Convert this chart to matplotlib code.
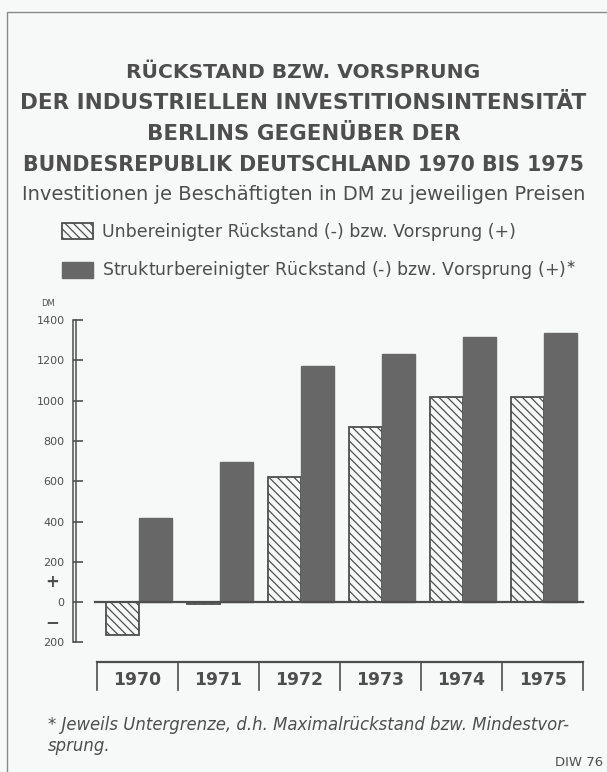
import numpy as np
import matplotlib.pyplot as plt
from matplotlib.patches import Rectangle

years = ['1970', '1971', '1972', '1973', '1974', '1975']
unadjusted = [-165, -10, 620, 870, 1020, 1020]
adjusted = [415, 695, 1170, 1230, 1315, 1335]
yticks = [-200, 0, 200, 400, 600, 800, 1000, 1200, 1400]
ytick_labels = ['200', '0', '200', '400', '600', '800', '1000', '1200', '1400']

title_lines = ['RÜCKSTAND BZW. VORSPRUNG',
               'DER INDUSTRIELLEN INVESTITIONSINTENSITÄT',
               'BERLINS GEGENÜBER DER',
               'BUNDESREPUBLIK DEUTSCHLAND 1970 BIS 1975']
subtitle = 'Investitionen je Beschäftigten in DM zu jeweiligen Preisen'
legend_labels = ['Unbereinigter Rückstand (-) bzw. Vorsprung (+)',
                 'Strukturbereinigter Rückstand (-) bzw. Vorsprung (+)$^{\\ast}$']
footnote = ['* Jeweils Untergrenze, d.h. Maximalrückstand bzw. Mindestvor-',
            'sprung.']
source = 'DIW 76'

BG = '#f7f8f8'
INK = '#4e4e4e'
DARK = '#676767'
W, H = 607, 772

plt.rcParams['font.family'] = ['DejaVu Sans']
plt.rcParams['hatch.linewidth'] = 0.9
plt.rcParams['hatch.color'] = INK

fig = plt.figure(figsize=(W / 100, H / 100), dpi=100, facecolor=BG)
renderer = fig.canvas.get_renderer()


def fit(t, width_px):
    # scale font so the text spans the width measured on the original
    bb = t.get_window_extent(renderer)
    t.set_fontsize(t.get_fontsize() * width_px / bb.width)
    return t


ax = fig.add_axes([40.3 / W, 1 - 702.75 / H, 567 / W, 402.75 / H])
ax.set_facecolor('none')
ax.set_xlim(-1.2, 5.8)
ax.set_ylim(-500, 1500)

x = np.arange(len(years))
w = 0.41
b1 = ax.bar(x - w / 2 + 0.02, unadjusted, w, facecolor=BG, edgecolor=INK,
            hatch='\\\\\\\\', linewidth=1.3, zorder=2)
b2 = ax.bar(x + w / 2 + 0.02, adjusted, w, color=DARK, edgecolor=DARK,
            zorder=2)

# zero line
ax.plot([-0.53, 5.5], [0, 0], color=INK, lw=1.6, zorder=3)

# y axis (double line)
for s in ['top', 'right', 'bottom']:
    ax.spines[s].set_visible(False)
ax.spines['left'].set_position(('data', -0.797))
ax.spines['left'].set_bounds(-200, 1400)
ax.spines['left'].set_color(INK)
ax.spines['left'].set_linewidth(1.1)
ax.plot([-0.762, -0.762], [-200, 1400], color=INK, lw=1.1)
ax.set_yticks(yticks, ytick_labels)
ax.tick_params(axis='y', direction='in', length=7.5, width=1.2, color=INK,
               labelcolor=INK, labelsize=8, pad=6)
ax.set_xticks([])
ax.text(-1.1, 1485, 'DM', ha='center', va='center', fontsize=6, color=INK)
ax.text(-1.056, 99, '+', ha='center', va='center', fontsize=12,
        fontweight='bold', color=INK)
ax.text(-1.056, -99, '−', ha='center', va='center', fontsize=12,
        fontweight='bold', color=INK)

# year boxes
ax.plot([-0.5, 5.5], [-298, -298], color=INK, lw=1.6, clip_on=False)
for xd in np.arange(-0.5, 6, 1.0):
    ax.plot([xd, xd], [-298, -437], color=INK, lw=1.2, clip_on=False)
for xi, yr in zip(x, years):
    t = ax.text(xi, -387, yr, ha='center', va='center', fontsize=15,
                fontweight='bold', color=INK)
    fit(t, 48)

# titles
title_widths = [354, 562, 312, 562]
for i, line in enumerate(title_lines):
    t = fig.text(0.5, 1 - (72 + 31 * i) / H, line, ha='center', va='center',
                 fontsize=15, fontweight='bold', color=INK)
    fit(t, title_widths[i])
t = fig.text(0.5, 1 - 195 / H, subtitle, ha='center', va='center',
             fontsize=13, color=INK)
fit(t, 563)

probe = fig.text(0, 0, legend_labels[0], fontsize=12)
fit(probe, 411)
leg_fs = probe.get_fontsize()
probe.remove()
fig.legend([b1, b2], legend_labels, loc='upper left',
           bbox_to_anchor=(62 / W, 1 - 223 / H), frameon=False,
           fontsize=leg_fs, labelcolor=INK, handlelength=1.8,
           handleheight=1.0, handletextpad=0.5, labelspacing=1.05,
           borderpad=0, borderaxespad=0)

t = fig.text(48 / W, 1 - 725 / H, footnote[0], ha='left', va='center',
             fontsize=11, style='italic', color=INK)
fit(t, 520)
fig.text(48 / W, 1 - 746 / H, footnote[1], ha='left', va='center',
         fontsize=t.get_fontsize(), style='italic', color=INK)
fig.text(603 / W, 1 - 763 / H, source, ha='right', va='center',
         fontsize=9.5, color=INK)

# frame
fig.add_artist(Rectangle((7 / W, -0.1), 1.2, 1.1 - 12 / H,
                         transform=fig.transFigure, fill=False,
                         edgecolor='#8a8a8a', lw=1.0))

fig.savefig('out.png', dpi=100, facecolor=BG)
